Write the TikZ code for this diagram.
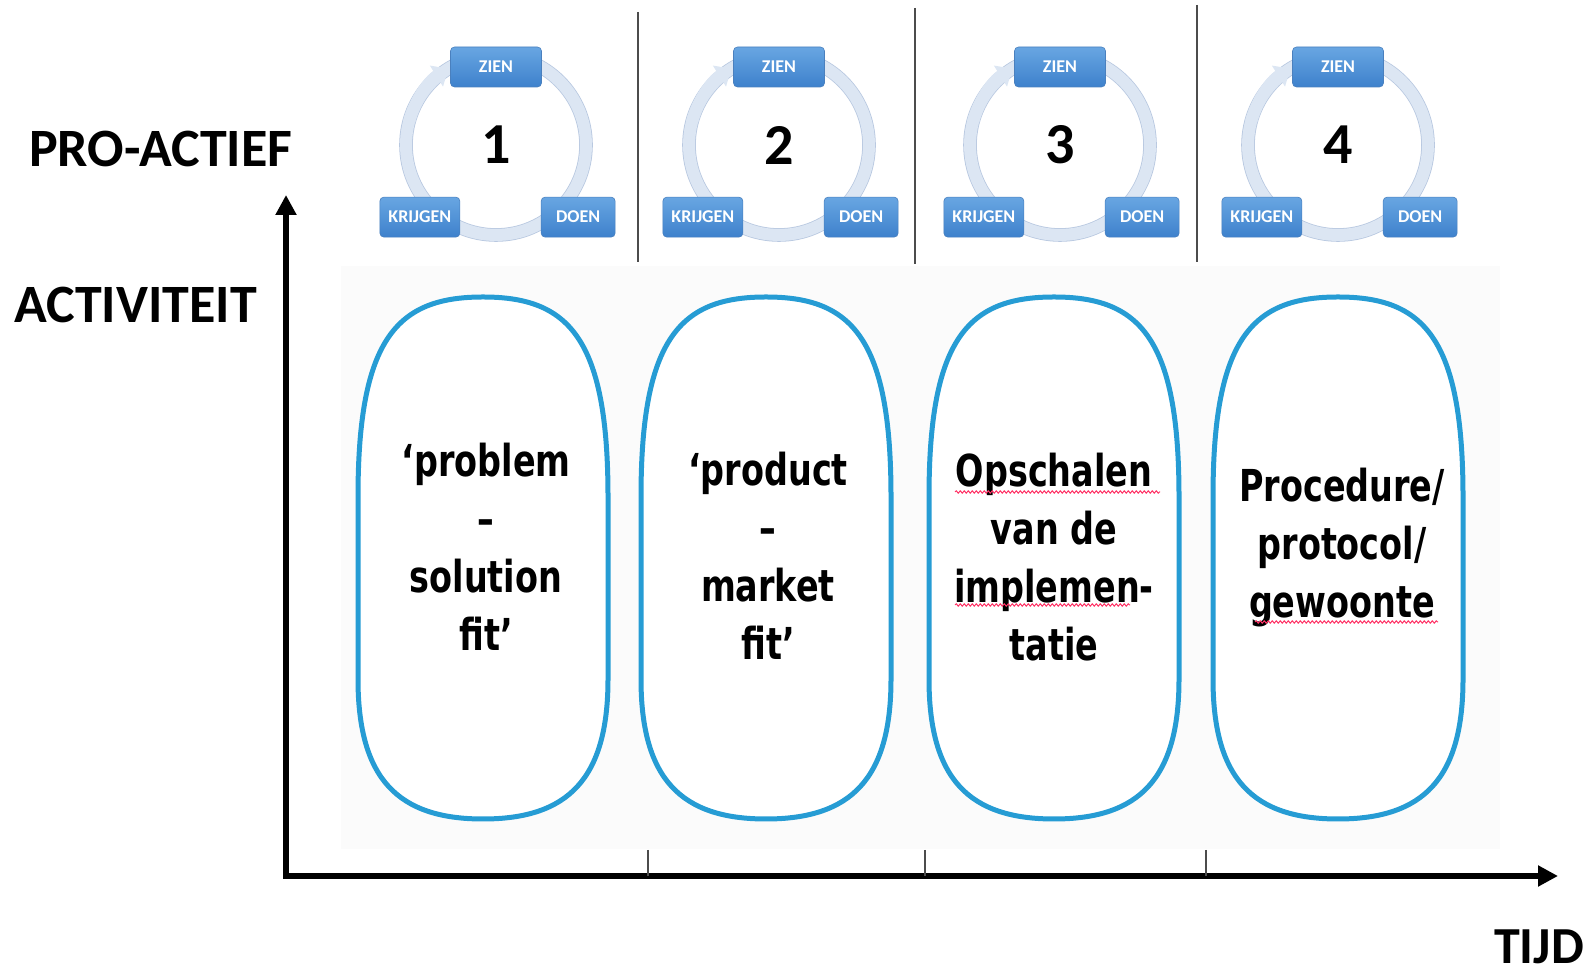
\documentclass[tikz,border=0pt]{standalone}
\usepackage{fontspec}
\setmainfont{Carlito}
\newfontfamily\handfont{DejaVu Sans}[FakeStretch=0.76]
\usepackage{tikz}
\usetikzlibrary{arrows.meta, decorations.pathmorphing}
\definecolor{boxtop}{RGB}{104,166,226}
\definecolor{boxbot}{RGB}{62,129,204}
\definecolor{boxedge}{RGB}{74,128,190}
\definecolor{ringfill}{RGB}{220,230,243}
\definecolor{ringedge}{RGB}{184,200,224}
\definecolor{blobblue}{RGB}{38,156,212}
\tikzstyle{axis} = [line width=6pt, line join=miter, {Triangle[length=20pt,width=20pt]}-{Triangle[length=20pt,width=20pt]}]
\tikzstyle{axtext} = [anchor=base west, inner sep=0pt, font=\fontsize{54}{60}\selectfont\bfseries]
\tikzstyle{sepline} = [draw=black!70, line width=1.2pt]
\tikzstyle{num} = [font=\fontsize{58}{64}\selectfont\bfseries]
\tikzstyle{ring} = [draw=ringedge, line width=0.8pt, double=ringfill, double distance=12pt]
\tikzstyle{ringarrow} = [draw=ringfill, line width=12pt, -{Triangle[length=14pt,width=24pt]}]
\tikzstyle{stap} = [rectangle, rounded corners=4pt, minimum height=40pt, text=white, top color=boxtop, bottom color=boxbot, draw=boxedge, line width=0.6pt, font=\fontsize{18}{20}\selectfont\bfseries]
\tikzstyle{blob} = [draw=blobblue, line width=5pt, fill=white]
\tikzstyle{handtext} = [align=center, font=\handfont\bfseries\fontsize{44}{58}\selectfont]
\tikzstyle{squiggle} = [draw=red!75!magenta!80, line width=1pt, decorate, decoration={snake, amplitude=1.2pt, segment length=4pt}]
\newcommand{\fasevorm}[1]{\draw [blob, xshift=#1pt] (-125,479) .. controls (-125,639) and (-85,679) .. (0,679) .. controls (85,679) and (125,639) .. (125,479) -- (125,297) .. controls (125,197) and (85,157) .. (0,157) .. controls (-85,157) and (-125,197) .. (-125,297) -- cycle;}

\begin{document}
\begin{tikzpicture}[x=1pt, y=1pt, node distance=102pt]
		\useasboundingbox (0,0) rectangle (1594,976);
		% achtergrond en assen
		\fill [black!1.5] (341,127) rectangle (1500,710);
		\coordinate (origin) at (286,100);
		\coordinate (ytop) at (286,781);
		\coordinate (xend) at (1558,100);
		\draw [axis] (ytop) -- (origin) -- (xend);
		\node (pro) [axtext] at (29,809) {PRO-ACTIEF};
		\node (act) [axtext] at (14,653) {ACTIVITEIT};
		\node (tijd) [axtext, font=\fontsize{52}{60}\selectfont\bfseries] at (1494,12) {TIJD};
		\draw [sepline] (638,964) -- (638,714);
		\draw [sepline] (915,968) -- (915,712);
		\draw [sepline] (1197,971) -- (1197,714);
		\draw [sepline] (648,126) -- (648,100);
		\draw [sepline] (925,126) -- (925,100);
		\draw [sepline] (1206,126) -- (1206,100);
		% fase 1
		\node (n1) [num] at (496,831) {1};
		\draw [ring] (n1.center) circle (90pt);
		\draw [ringarrow] ([shift={(165:90pt)}]n1.center) arc (165:122:90pt);
		\node (z1) [stap, minimum width=91pt, above of=n1, node distance=78pt] {ZIEN};
		\node (k1) [stap, minimum width=80pt, below left of=n1, xshift=-4pt] {KRIJGEN};
		\node (d1) [stap, minimum width=74pt, below right of=n1, xshift=10pt] {DOEN};
		% fase 2
		\node (n2) [num] at (779,831) {2};
		\draw [ring] (n2.center) circle (90pt);
		\draw [ringarrow] ([shift={(165:90pt)}]n2.center) arc (165:122:90pt);
		\node (z2) [stap, minimum width=91pt, above of=n2, node distance=78pt] {ZIEN};
		\node (k2) [stap, minimum width=80pt, below left of=n2, xshift=-4pt] {KRIJGEN};
		\node (d2) [stap, minimum width=74pt, below right of=n2, xshift=10pt] {DOEN};
		% fase 3
		\node (n3) [num] at (1060,831) {3};
		\draw [ring] (n3.center) circle (90pt);
		\draw [ringarrow] ([shift={(165:90pt)}]n3.center) arc (165:122:90pt);
		\node (z3) [stap, minimum width=91pt, above of=n3, node distance=78pt] {ZIEN};
		\node (k3) [stap, minimum width=80pt, below left of=n3, xshift=-4pt] {KRIJGEN};
		\node (d3) [stap, minimum width=74pt, below right of=n3, xshift=10pt] {DOEN};
		% fase 4
		\node (n4) [num] at (1338,831) {4};
		\draw [ring] (n4.center) circle (90pt);
		\draw [ringarrow] ([shift={(165:90pt)}]n4.center) arc (165:122:90pt);
		\node (z4) [stap, minimum width=91pt, above of=n4, node distance=78pt] {ZIEN};
		\node (k4) [stap, minimum width=80pt, below left of=n4, xshift=-4pt] {KRIJGEN};
		\node (d4) [stap, minimum width=74pt, below right of=n4, xshift=10pt] {DOEN};
		% fases
		\fasevorm{483}
		\fasevorm{766}
		\fasevorm{1054}
		\fasevorm{1338}
		\node (t1) [handtext] at (486,429) {‘problem\\–\\solution\\fit’};
		\node (t2) [handtext] at (768,420) {‘product\\–\\market\\fit’};
		\node (t3) [handtext] at (1054,419) {Opschalen\\van de\\implemen-\\tatie};
		\node (t4) [handtext] at (1342,428) {Procedure/\\protocol/\\gewoonte};
		\draw [squiggle] (955,484) -- (1160,484);
		\draw [squiggle] (955,371) -- (1130,371);
		\draw [squiggle] (1255,354) -- (1438,354);
\end{tikzpicture}
\end{document}
